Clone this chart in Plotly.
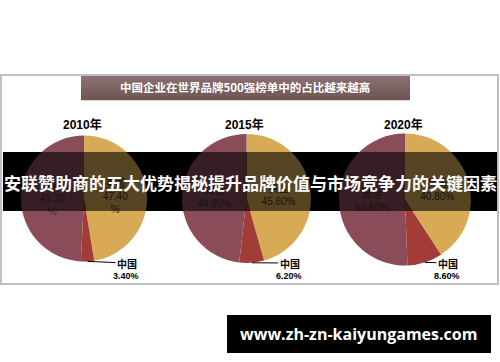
import numpy as np
import plotly.graph_objects as go

# ---- data ----
years = ["2010年", "2015年", "2020年"]
slice_labels = ["美国", "中国", "其他"]
usa = [47.40, 45.60, 40.80]
china = [3.40, 6.20, 8.60]
other = [49.20, 48.20, 50.60]

chart_title = "中国企业在世界品牌500强榜单中的占比越来越高"
banner_text = "安联赞助商的五大优势揭秘提升品牌价值与市场竞争力的关键因素"
url_text = "www.zh-zn-kaiyungames.com"

colors = ["#D9AA55", "#A23C37", "#8B4C5A"]

W, H = 500, 362
def px(x):
    return x / W
def py(y):
    return 1 - y / H

# pie layout boxes in pixels (left, right, top, bottom)
boxes = [(21, 147, 135, 262), (182, 311, 134, 263), (339, 471, 133, 266)]

fig = go.Figure()
annotations = []

for i, yr in enumerate(years):
    vals = [usa[i], china[i], other[i]]
    if i == 0:
        fmt = lambda lab, v: f"{lab}<br>{v:.2f}<br>%"
    else:
        fmt = lambda lab, v: f"{lab}<br>{v:.2f}%"
    texts = [fmt(slice_labels[0], vals[0]), "", fmt(slice_labels[2], vals[2])]
    l, r, t, b = boxes[i]
    fig.add_trace(go.Pie(
        labels=slice_labels, values=vals, sort=False, direction="clockwise",
        rotation=0, marker=dict(colors=colors, line=dict(width=0)),
        text=texts, textinfo="text", textposition="inside",
        insidetextorientation="horizontal",
        textfont=dict(size=10, color="#333333", family="Liberation Sans, Noto Sans CJK SC"),
        domain=dict(x=[px(l), px(r)], y=[py(b), py(t)]),
        showlegend=False, hoverinfo="label+value",
    ))
    cx = (l + r) / 2
    cy = (t + b) / 2
    rad = min(r - l, b - t) / 2
    # year title
    annotations.append(dict(text=f"<b>{yr}</b>", x=px(cx - 2), y=py(124), xref="paper", yref="paper",
                            xanchor="center", yanchor="middle", showarrow=False,
                            font=dict(size=12, color="black", family="Liberation Sans, Noto Sans CJK SC")))
    # China leader label
    theta = np.deg2rad((vals[0] + vals[1] / 2) / 100 * 360)
    rx = cx + rad * np.sin(theta)
    ry = cy - rad * np.cos(theta)
    lx = cx + 43
    ly = 263
    annotations.append(dict(text="<b>中国</b>", x=px(rx), y=py(ry), xref="paper", yref="paper",
                            xanchor="center", yanchor="middle",
                            showarrow=True, arrowhead=0, arrowwidth=1, arrowcolor="black",
                            ax=lx - rx, ay=ly - ry, standoff=0,
                            font=dict(size=10, color="black", family="Noto Sans CJK SC")))
    annotations.append(dict(text=f"<b>{vals[1]:.2f}%</b>", x=px(lx - 1), y=py(276), xref="paper", yref="paper",
                            xanchor="center", yanchor="middle", showarrow=False,
                            font=dict(size=9, color="black", family="Liberation Sans")))

annotations += [
    dict(text=f"<b>{chart_title}</b>", x=px(245), y=py(87.5), xref="paper", yref="paper", showarrow=False,
         xanchor="center", yanchor="middle",
         font=dict(size=11.5, color="white", family="Noto Sans CJK SC")),
    dict(text=f"<b>{banner_text}</b>", x=px(250), y=py(182), xref="paper", yref="paper", showarrow=False,
         xanchor="center", yanchor="middle",
         font=dict(size=17, color="white", family="Noto Sans CJK SC")),
    dict(text=f"<b>{url_text}</b>", x=px(358), y=py(334), xref="paper", yref="paper", showarrow=False,
         xanchor="center", yanchor="middle",
         font=dict(size=16, color="white", family="Open Sans")),
]

shapes = [
    dict(type="rect", xref="paper", yref="paper", x0=px(1), x1=px(498), y0=py(284), y1=py(75),
         line=dict(color="#C0C0C0", width=2), layer="below"),
]
# title bar with a vertical gradient (light top -> darker bottom)
grad = ["#8A7070", "#856A6A", "#806565", "#7B6060", "#765B5B", "#715656"]
band_h = 24 / len(grad)
for k, c in enumerate(grad):
    shapes.append(dict(type="rect", xref="paper", yref="paper", x0=px(81), x1=px(410),
                       y0=py(76 + (k + 1) * band_h + 0.3), y1=py(76 + k * band_h),
                       fillcolor=c, line=dict(width=0), layer="below"))
shapes += [
    dict(type="rect", xref="paper", yref="paper", x0=px(3), x1=px(497), y0=py(211), y1=py(152),
         fillcolor="black", line=dict(width=0), layer="below"),
    dict(type="rect", xref="paper", yref="paper", x0=px(3), x1=px(497), y0=py(211), y1=py(152),
         fillcolor="black", opacity=0.6, line=dict(width=0), layer="above"),
    dict(type="rect", xref="paper", yref="paper", x0=px(227), x1=px(491), y0=py(353), y1=py(315),
         fillcolor="black", line=dict(width=0), layer="above"),
]

fig.update_layout(
    width=W, height=H, margin=dict(l=0, r=0, t=0, b=0),
    paper_bgcolor="white", plot_bgcolor="white",
    shapes=shapes, annotations=annotations,
)

fig.write_html("out.html", config={"displayModeBar": False},
               post_script="document.body.style.margin='0';document.body.style.overflow='hidden';")
